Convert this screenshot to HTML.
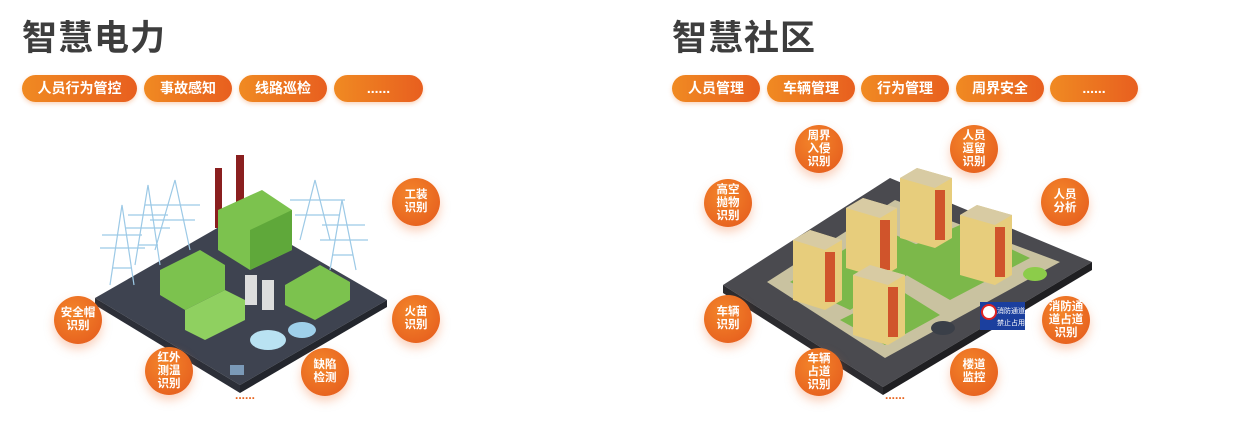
<!DOCTYPE html>
<html><head><meta charset="utf-8"><style>
body{margin:0;width:1256px;height:433px;background:#fff;position:relative;overflow:hidden;font-family:"Liberation Sans","Noto Sans CJK SC",sans-serif}
.t{position:absolute;top:10px;font-size:35px;font-weight:bold;color:#3d3d3d;letter-spacing:1px}
.p{position:absolute;top:75px;height:27px;border-radius:14px;background:linear-gradient(90deg,#f08a22,#e85f1f);color:#fff;font-size:14px;font-weight:bold;text-align:center;line-height:27px;box-shadow:0 2px 4px rgba(240,120,40,.3)}
.c{position:absolute;width:48px;height:48px;border-radius:50%;background:radial-gradient(circle at 40% 35%,#f3852a,#e4581c);color:#fff;font-size:11.5px;font-weight:bold;display:flex;align-items:center;justify-content:center;text-align:center;line-height:13px;box-shadow:0 5px 10px rgba(240,120,60,.35)}
.d{position:absolute;color:#e8651f;font-size:12px;font-weight:bold;letter-spacing:0px}
svg{position:absolute;left:0;top:0}
</style></head><body>
<svg width="1256" height="433">
<!-- left platform -->
<polygon points="95,298 240,215 387,300 240,385" fill="#3e4350"/>
<polygon points="95,298 240,385 240,393 95,305" fill="#2c2f38"/>
<polygon points="240,385 387,300 387,307 240,393" fill="#23262d"/>
<g stroke="#9cc9e6" stroke-width="1.2" fill="none">
<path d="M110,285 L122,205 L134,285 M102,235 L142,235 M100,248 L145,248 M112,268 L132,268"/>
<path d="M135,265 L148,185 L160,265 M128,215 L168,215 M126,228 L170,228 M138,245 L158,245"/>
<path d="M155,250 L175,180 L190,250 M145,205 L200,205 M150,220 L195,220"/>
<path d="M300,240 L315,180 L330,240 M290,200 L345,200 M295,215 L340,215"/>
<path d="M330,270 L342,200 L356,270 M322,225 L365,225 M320,240 L368,240 M333,255 L353,255"/>
</g>
<rect x="215" y="168" width="7" height="60" fill="#8a1f1f"/>
<rect x="236" y="155" width="8" height="70" fill="#8a1f1f"/>
<polygon points="218,210 262,190 292,210 292,250 250,270 218,250" fill="#7cc24e"/>
<polygon points="250,230 292,210 292,250 250,270" fill="#5fa83a"/>
<polygon points="160,270 200,250 225,265 225,290 185,310 160,295" fill="#7cc24e"/>
<polygon points="185,310 225,290 245,300 245,320 205,340 185,330" fill="#8fd060"/>
<polygon points="285,285 320,265 350,282 350,300 315,320 285,305" fill="#7cc24e"/>
<rect x="245" y="275" width="12" height="30" fill="#ddd"/><rect x="262" y="280" width="12" height="30" fill="#ddd"/>
<ellipse cx="268" cy="340" rx="18" ry="10" fill="#b9e2f2"/>
<ellipse cx="302" cy="330" rx="14" ry="8" fill="#9fd0ea"/>
<rect x="230" y="365" width="14" height="10" fill="#7b9ab8"/>
<!-- right platform -->
<polygon points="723,285 890,178 1092,262 883,387" fill="#4a4a4f"/>
<polygon points="723,285 883,387 883,395 723,293" fill="#2b2b2f"/>
<polygon points="883,387 1092,262 1092,270 883,395" fill="#1f1f22"/>
<polygon points="767,282 895,200 1060,262 885,358" fill="#c9c2a0"/>
<polygon points="790,282 880,228 940,255 850,310" fill="#7cb84a"/>
<polygon points="880,260 960,225 1030,258 950,300" fill="#7cb84a"/>
<polygon points="840,320 900,290 940,315 885,345" fill="#7cb84a"/>
<g>
<polygon points="793,240 810,230 842,240 842,300 825,310 793,300" fill="#e7cd7c"/><polygon points="793,240 810,230 842,240 825,250" fill="#d8cba3"/><rect x="825" y="252" width="10" height="50" fill="#d0542b"/>
<polygon points="846,208 863,198 897,208 897,268 880,278 846,268" fill="#e7cd7c"/><polygon points="846,208 863,198 897,208 880,218" fill="#d8cba3"/><rect x="880" y="220" width="10" height="50" fill="#d0542b"/>
<polygon points="900,178 917,168 952,178 952,238 935,248 900,238" fill="#e7cd7c"/><polygon points="900,178 917,168 952,178 935,188" fill="#d8cba3"/><rect x="935" y="190" width="10" height="50" fill="#d0542b"/>
<polygon points="960,215 977,205 1012,215 1012,275 995,285 960,275" fill="#e7cd7c"/><polygon points="960,215 977,205 1012,215 995,225" fill="#d8cba3"/><rect x="995" y="227" width="10" height="50" fill="#d0542b"/>
<polygon points="853,275 870,265 905,275 905,335 888,345 853,335" fill="#e7cd7c"/><polygon points="853,275 870,265 905,275 888,285" fill="#d8cba3"/><rect x="888" y="287" width="10" height="50" fill="#d0542b"/>
</g>
<ellipse cx="1035" cy="274" rx="12" ry="7" fill="#8ccc4a"/>
<ellipse cx="943" cy="328" rx="12" ry="7" fill="#3a3f48"/>
<rect x="980" y="302" width="45" height="28" fill="#1b3f9e"/>
<circle cx="989" cy="312" r="7" fill="#fff" stroke="#d22" stroke-width="2"/>
<text x="997" y="313" font-size="7" fill="#fff" font-family="Noto Sans CJK SC">消防通道</text>
<text x="997" y="325" font-size="7" fill="#fff" font-family="Noto Sans CJK SC">禁止占用</text>
</svg>
<div class="t" style="left:22px">智慧电力</div>
<div class="p" style="left:22px;width:115px">人员行为管控</div>
<div class="p" style="left:144px;width:88px">事故感知</div>
<div class="p" style="left:239px;width:88px">线路巡检</div>
<div class="p" style="left:334px;width:89px">......</div>
<div class="t" style="left:672px">智慧社区</div>
<div class="p" style="left:672px;width:88px">人员管理</div>
<div class="p" style="left:767px;width:88px">车辆管理</div>
<div class="p" style="left:861px;width:88px">行为管理</div>
<div class="p" style="left:956px;width:88px">周界安全</div>
<div class="p" style="left:1050px;width:88px">......</div>
<div class="c" style="left:392px;top:178px">工装<br>识别</div>
<div class="c" style="left:54px;top:296px">安全帽<br>识别</div>
<div class="c" style="left:392px;top:295px">火苗<br>识别</div>
<div class="c" style="left:145px;top:347px">红外<br>测温<br>识别</div>
<div class="c" style="left:301px;top:348px">缺陷<br>检测</div>
<div class="d" style="left:235px;top:388px">......</div>
<div class="c" style="left:795px;top:125px">周界<br>入侵<br>识别</div>
<div class="c" style="left:950px;top:125px">人员<br>逗留<br>识别</div>
<div class="c" style="left:704px;top:179px">高空<br>抛物<br>识别</div>
<div class="c" style="left:1041px;top:178px">人员<br>分析</div>
<div class="c" style="left:704px;top:295px">车辆<br>识别</div>
<div class="c" style="left:1042px;top:296px">消防通<br>道占道<br>识别</div>
<div class="c" style="left:795px;top:348px">车辆<br>占道<br>识别</div>
<div class="c" style="left:950px;top:348px">楼道<br>监控</div>
<div class="d" style="left:885px;top:388px">......</div>
</body></html>
